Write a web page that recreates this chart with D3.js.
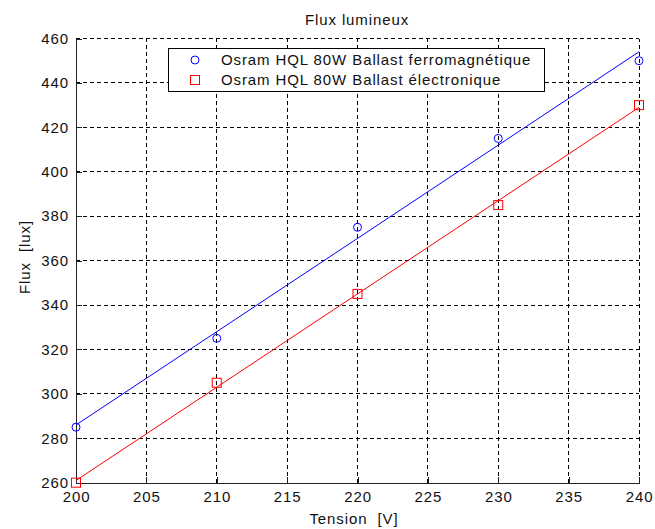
<!DOCTYPE html>
<html>
<head>
<meta charset="utf-8">
<script src="https://cdn.jsdelivr.net/npm/d3@7"></script>
<style>
  body { margin: 0; background: #fff; }
  svg text { font-family: "Liberation Sans", Arial, sans-serif; fill: #111; letter-spacing: 0.9px; white-space: pre; }
</style>
</head>
<body>
<svg id="chart" width="655" height="529"></svg>
<script>
const tension = [200, 210, 220, 230, 240];
const fluxFerro = [285, 325, 375, 415, 450];
const fluxElec = [260, 305, 345, 385, 430];
const fitX = [200, 240];
const fitFerro = [286, 454];
const fitElec = [261, 429];
const xTicks = [200, 205, 210, 215, 220, 225, 230, 235, 240];
const yTicks = [260, 280, 300, 320, 340, 360, 380, 400, 420, 440, 460];
const seriesNames = ["Osram HQL 80W Ballast ferromagnétique", "Osram HQL 80W Ballast électronique"];
const title = "Flux lumineux";
const xLabel = "Tension  [V]";
const yLabel = "Flux  [lux]";

const FS = "15px";
const svg = d3.select("#chart");
const L = 76, R = 639, T = 38.5, B = 482.7;
const x = d3.scaleLinear().domain([200, 240]).range([L, R]);
const y = d3.scaleLinear().domain([260, 460]).range([B, T]);

// grid
const grid = svg.append("g").attr("stroke", "#000").attr("stroke-width", 1).attr("stroke-dasharray", "4,3").attr("shape-rendering", "crispEdges");
xTicks.slice(1).forEach(t => grid.append("line").attr("x1", x(t)).attr("x2", x(t)).attr("y1", B).attr("y2", T));
yTicks.slice(1).forEach(t => grid.append("line").attr("x1", L).attr("x2", R).attr("y1", y(t)).attr("y2", y(t)));

// axes
const xAxis = d3.axisBottom(x).tickValues(xTicks).tickSizeInner(-6).tickSizeOuter(0).tickPadding(9).tickFormat(d3.format("d"));
const yAxis = d3.axisLeft(y).tickValues(yTicks).tickSizeInner(-6).tickSizeOuter(0).tickPadding(7).tickFormat(d3.format("d"));
const gx = svg.append("g").attr("transform", `translate(0,${B})`).call(xAxis);
const gy = svg.append("g").attr("transform", `translate(${L},0)`).call(yAxis);
[gx, gy].forEach(g => {
  g.select(".domain").attr("stroke", "#222").attr("shape-rendering", "crispEdges");
  g.selectAll(".tick line").attr("stroke", "#222").attr("shape-rendering", "crispEdges");
  g.selectAll("text").style("font-size", FS).style("font-family", "Liberation Sans, Arial, sans-serif").attr("fill", "#222");
});

// fit lines
const line = d3.line().x(d => x(d[0])).y(d => y(d[1]));
svg.append("path").datum(d3.zip(fitX, fitFerro)).attr("d", line).attr("fill", "none").attr("stroke", "#0000ff").attr("stroke-width", 1);
svg.append("path").datum(d3.zip(fitX, fitElec)).attr("d", line).attr("fill", "none").attr("stroke", "#ff0000").attr("stroke-width", 1);

// markers
svg.append("g").selectAll("circle").data(d3.zip(tension, fluxFerro)).join("circle")
  .attr("cx", d => x(d[0])).attr("cy", d => y(d[1])).attr("r", 4)
  .attr("fill", "none").attr("stroke", "#0000ff").attr("stroke-width", 1);
svg.append("g").selectAll("rect").data(d3.zip(tension, fluxElec)).join("rect")
  .attr("x", d => x(d[0]) - 4.5).attr("y", d => y(d[1]) - 4.5).attr("width", 9).attr("height", 9)
  .attr("fill", "none").attr("stroke", "#ff0000").attr("stroke-width", 1);

// title & labels
svg.append("text").attr("x", 357).attr("y", 25).attr("text-anchor", "middle").style("font-size", FS).text(title);
svg.append("text").attr("x", 354).attr("y", 524).attr("text-anchor", "middle").style("font-size", FS).text(xLabel);
svg.append("text").attr("transform", "translate(30,257) rotate(-90)").attr("text-anchor", "middle").style("font-size", FS).text(yLabel);

// legend
const lg = svg.append("g");
lg.append("rect").attr("x", 168.5).attr("y", 48.5).attr("width", 376).attr("height", 43)
  .attr("fill", "#fff").attr("stroke", "#000").attr("stroke-width", 1);
lg.append("circle").attr("cx", 195).attr("cy", 60).attr("r", 4).attr("fill", "none").attr("stroke", "#0000ff");
lg.append("rect").attr("x", 190.5).attr("y", 75.5).attr("width", 9).attr("height", 9).attr("fill", "none").attr("stroke", "#ff0000");
lg.append("text").attr("x", 221).attr("y", 65).style("font-size", FS).text(seriesNames[0]);
lg.append("text").attr("x", 221).attr("y", 85).style("font-size", FS).text(seriesNames[1]);
</script>
</body>
</html>
